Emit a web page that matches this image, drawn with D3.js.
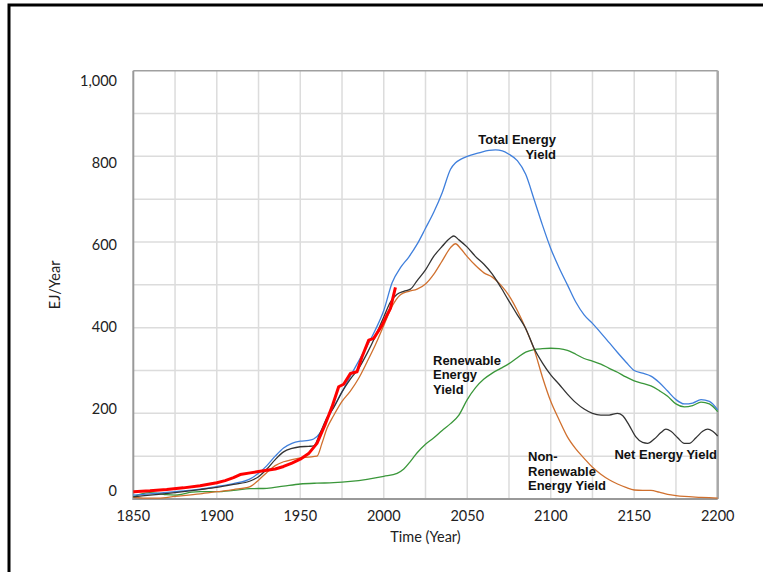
<!DOCTYPE html>
<meta charset="utf-8">
<style>
body { margin: 0; background: #fff; }
svg { display: block; }
.tick-label { font: 14.5px Lato, sans-serif; fill: #222; }
.axis-title { font: 14.5px Lato, sans-serif; fill: #222; }
.note { font: bold 13px "Liberation Sans", Arial, sans-serif; fill: #111; }
.grid line { stroke: #dcdcdc; stroke-width: 1.5; }
</style>
<svg width="763" height="572"></svg>
<script src="https://cdn.jsdelivr.net/npm/d3@7"></script>
<script>

// series: [year, EJ/year]
var totalYield = [
  [1850,9],[1860,12],[1875,17],[1890,23],[1900,29],[1910,36],[1920,47],[1925,60],
  [1930,78],[1935,100],[1940,119],[1945,130],[1950,135],[1955,137],[1958,140],
  [1962,155],[1966,185],[1970,215],[1975,250],[1980,287],[1985,322],[1990,357],
  [1995,395],[2000,440],[2005,505],[2010,540],[2015,565],[2020,595],[2025,632],
  [2030,670],[2035,715],[2040,770],[2043,785],[2046,793],[2050,800],[2057,808],
  [2063,814],[2067,815],[2071,813],[2075,805],[2080,790],[2085,758],[2090,700],
  [2095,640],[2100,585],[2105,540],[2110,500],[2115,460],[2120,430],[2125,410],
  [2130,388],[2135,365],[2140,342],[2145,320],[2150,300],[2155,294],[2160,287],
  [2165,272],[2170,252],[2175,232],[2180,222],[2185,224],[2190,232],[2195,228],
  [2200,208]
];

var netYield = [
  [1850,5],[1860,9],[1875,15],[1890,22],[1900,27],[1910,34],[1920,42],[1925,52],
  [1930,70],[1935,92],[1940,110],[1945,118],[1950,122],[1955,123],[1958,124],
  [1962,155],[1966,190],[1970,213],[1975,250],[1980,280],[1985,305],[1990,340],
  [1995,380],[2000,425],[2004,460],[2008,478],[2012,485],[2016,490],[2020,510],
  [2025,535],[2030,567],[2035,590],[2040,610],[2042,614],[2045,605],[2050,588],
  [2055,566],[2060,548],[2065,525],[2070,495],[2075,462],[2080,430],[2085,398],
  [2090,352],[2095,318],[2100,290],[2105,268],[2110,245],[2115,225],[2120,210],
  [2125,200],[2130,196],[2135,196],[2140,200],[2143,195],[2147,172],[2151,145],
  [2155,132],[2158,130],[2162,140],[2166,155],[2169,163],[2172,158],[2176,143],
  [2180,130],[2183,130],[2187,143],[2191,158],[2194,163],[2197,158],[2200,147]
];

var nonRenewableYield = [
  [1850,4],[1860,2],[1865,2],[1875,6],[1890,12],[1900,17],[1910,22],[1920,29],
  [1925,44],[1930,62],[1935,78],[1940,87],[1945,92],[1950,96],[1955,98],[1960,100],
  [1963,130],[1966,165],[1970,195],[1975,228],[1980,252],[1985,282],[1990,320],
  [1995,360],[2000,405],[2005,450],[2010,477],[2015,485],[2020,490],[2025,502],
  [2030,525],[2035,556],[2040,587],[2043,596],[2046,585],[2050,566],[2055,545],
  [2060,528],[2065,518],[2070,500],[2075,475],[2080,440],[2085,398],[2090,350],
  [2095,285],[2100,228],[2105,185],[2110,145],[2115,117],[2120,95],[2125,74],
  [2130,58],[2135,45],[2140,35],[2145,27],[2150,21],[2155,20],[2160,20],
  [2165,16],[2170,11],[2175,8],[2180,6],[2190,4],[2200,2]
];

var renewableYield = [
  [1850,5],[1855,12],[1860,15],[1865,13],[1870,10],[1875,9],[1880,12],[1885,16],
  [1890,17],[1900,17],[1910,20],[1920,24],[1930,25],[1940,30],[1950,35],[1960,37],
  [1970,38],[1980,41],[1990,46],[2000,53],[2008,60],[2012,70],[2016,88],[2020,108],
  [2025,128],[2030,143],[2035,160],[2040,176],[2045,196],[2050,232],[2055,260],
  [2060,280],[2065,294],[2070,305],[2075,316],[2080,330],[2085,343],[2090,349],
  [2095,351],[2100,352],[2105,351],[2110,347],[2115,338],[2120,328],[2125,322],
  [2130,315],[2135,305],[2140,296],[2145,285],[2150,276],[2155,270],[2160,264],
  [2165,253],[2170,240],[2175,222],[2180,215],[2185,218],[2190,226],[2195,222],
  [2200,204]
];

// historical world energy use
var historical = [
  [1850,17],[1860,19],[1870,22],[1880,26],[1890,31],[1900,38],[1905,43],[1910,50],
  [1914,57],[1920,61],[1925,64],[1930,67],[1935,70],[1940,76],[1945,84],[1950,93],
  [1955,106],[1960,130],[1965,175],[1969,215],[1973,262],[1976,268],[1980,293],
  [1984,297],[1987,332],[1991,371],[1994,375],[1999,406],[2002,430],[2004,445],
  [2007,494]
];

var xTicks = [1850, 1900, 1950, 2000, 2050, 2100, 2150, 2200];
var yTicks = [0, 200, 400, 600, 800, 1000];

var svg = d3.select("svg");
var plotLeft = 133.3, plotRight = 717.7, plotTop = 70.7, plotBottom = 499;

var x = d3.scaleLinear().domain([1850, 2200]).range([plotLeft, plotRight]);
var y = d3.scaleLinear().domain([0, 1000]).range([plotBottom, plotTop]);
// the value labels sit a little inside the grid, as in the original
var yLab = d3.scaleLinear().domain([0, 1000]).range([plotBottom - 8, plotTop + 10]);

// outer frame
svg.append("rect")
    .attr("x", 9).attr("y", 5)
    .attr("width", 800).attr("height", 600)
    .attr("fill", "none").attr("stroke", "#000").attr("stroke-width", 3);

// grid
var grid = svg.append("g").attr("class", "grid");
grid.selectAll(".v").data(d3.range(1875, 2200, 25)).enter().append("line")
    .attr("x1", function(d) { return x(d); }).attr("x2", function(d) { return x(d); })
    .attr("y1", plotTop).attr("y2", plotBottom);
grid.selectAll(".h").data(d3.range(100, 1000, 100)).enter().append("line")
    .attr("x1", plotLeft).attr("x2", plotRight)
    .attr("y1", function(d) { return y(d); }).attr("y2", function(d) { return y(d); });

// plot border
svg.append("line").attr("x1", plotLeft).attr("x2", plotRight).attr("y1", plotTop).attr("y2", plotTop)
    .attr("stroke", "#a0a0a0").attr("stroke-width", 1.5);
svg.append("line").attr("x1", plotRight).attr("x2", plotRight).attr("y1", plotTop).attr("y2", plotBottom)
    .attr("stroke", "#a8a8a8").attr("stroke-width", 2.5);
svg.append("line").attr("x1", plotLeft).attr("x2", plotLeft).attr("y1", plotTop).attr("y2", plotBottom + 1)
    .attr("stroke", "#999").attr("stroke-width", 2);
svg.append("line").attr("x1", plotLeft).attr("x2", plotRight).attr("y1", plotBottom).attr("y2", plotBottom)
    .attr("stroke", "#999").attr("stroke-width", 2);

// tick labels
svg.selectAll(".xl").data(xTicks).enter().append("text")
    .attr("class", "tick-label")
    .attr("x", function(d) { return x(d); })
    .attr("y", 521)
    .attr("text-anchor", "middle")
    .text(function(d) { return d; });

svg.selectAll(".yl").data(yTicks).enter().append("text")
    .attr("class", "tick-label")
    .attr("x", 117)
    .attr("y", function(d) { return yLab(d); })
    .attr("dy", "0.35em")
    .attr("text-anchor", "end")
    .text(d3.format(","));

svg.append("text").attr("class", "axis-title")
    .attr("x", (plotLeft + plotRight) / 2).attr("y", 542)
    .attr("text-anchor", "middle")
    .text("Time (Year)");

svg.append("text").attr("class", "axis-title")
    .attr("transform", "translate(60," + ((plotTop + plotBottom) / 2) + ") rotate(-90)")
    .attr("text-anchor", "middle")
    .text("EJ/Year");

// lines
var smooth = d3.line()
    .x(function(d) { return x(d[0]); })
    .y(function(d) { return y(d[1]); })
    .curve(d3.curveMonotoneX);

var series = [
  { data: renewableYield, color: "#3a973a", width: 1.3 },
  { data: nonRenewableYield, color: "#d0702e", width: 1.3 },
  { data: totalYield, color: "#3f7fdc", width: 1.3 },
  { data: netYield, color: "#333333", width: 1.3 }
];

svg.selectAll(".series").data(series).enter().append("path")
    .attr("fill", "none")
    .attr("stroke", function(d) { return d.color; })
    .attr("stroke-width", function(d) { return d.width; })
    .attr("d", function(d) { return smooth(d.data); });

svg.append("path")
    .attr("fill", "none")
    .attr("stroke", "#ff0000")
    .attr("stroke-width", 3)
    .attr("stroke-linejoin", "round")
    .attr("d", d3.line()
        .x(function(d) { return x(d[0]); })
        .y(function(d) { return y(d[1]); })(historical));

// labels on the curves
function note(lines, px, py, anchor) {
  var t = svg.append("text").attr("class", "note").attr("text-anchor", anchor);
  lines.forEach(function(s, i) {
    t.append("tspan").attr("x", px).attr("y", py + i * 14.7).text(s);
  });
}
note(["Total Energy", "Yield"], 556, 144, "end");
note(["Renewable", "Energy", "Yield"], 433, 364.5, "start");
note(["Non-", "Renewable", "Energy Yield"], 528, 461, "start");
note(["Net Energy Yield"], 717, 459, "end");

</script>
